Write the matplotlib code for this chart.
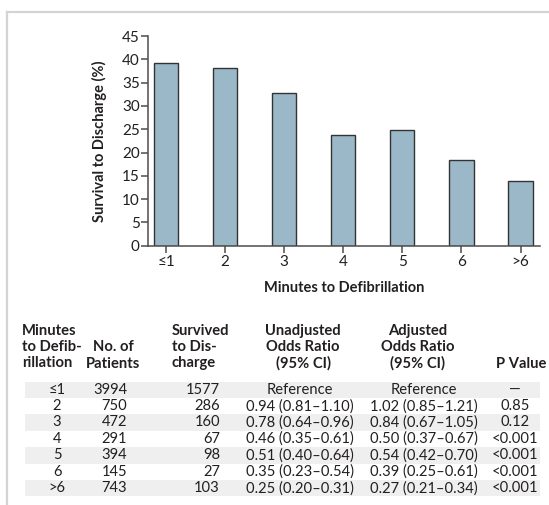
import matplotlib
matplotlib.use("Agg")
import matplotlib.pyplot as plt
from matplotlib.patches import Rectangle
from matplotlib.lines import Line2D

plt.rcParams["font.family"] = ["Lato", "DejaVu Sans"]

# survival by time to defibrillation
categories = ["\u22641", "2", "3", "4", "5", "6", ">6"]
survival_pct = [39.3, 38.1, 32.8, 23.8, 24.8, 18.4, 13.9]

# table columns
patients = ["3994", "750", "472", "291", "394", "145", "743"]
survived = ["1577", "286", "160", "67", "98", "27", "103"]
unadjusted_or = ["Reference", "0.94 (0.81\u20131.10)", "0.78 (0.64\u20130.96)",
                 "0.46 (0.35\u20130.61)", "0.51 (0.40\u20130.64)",
                 "0.35 (0.23\u20130.54)", "0.25 (0.20\u20130.31)"]
adjusted_or = ["Reference", "1.02 (0.85\u20131.21)", "0.84 (0.67\u20131.05)",
               "0.50 (0.37\u20130.67)", "0.54 (0.42\u20130.70)",
               "0.39 (0.25\u20130.61)", "0.27 (0.21\u20130.34)"]
p_values = ["\u2014", "0.85", "0.12", "<0.001", "<0.001", "<0.001", "<0.001"]

W, H = 549, 505
ink = "#231f20"
axis_col = "#4d4d4d"
bar_col = "#9bb8c8"

fig = plt.figure(figsize=(W / 100, H / 100), dpi=100)

# ---- bar chart ----
ax = fig.add_axes([148 / W, 1 - 245.7 / H, 392 / W, 209.7 / H])
x = list(range(len(categories)))
ax.bar(x, survival_pct, width=0.41, color=bar_col, edgecolor="#333333", linewidth=1.0)
ax.set_xlim(-0.305, 6.33)
ax.set_ylim(0, 45)
ax.set_yticks(range(0, 50, 5))
ax.set_xticks(x)
ax.set_xticklabels(categories)
for s in ("top", "right"):
    ax.spines[s].set_visible(False)
for s in ("left", "bottom"):
    ax.spines[s].set_color(axis_col)
    ax.spines[s].set_linewidth(1.1)
ax.tick_params(axis="both", colors=axis_col, labelcolor=ink, labelsize=11,
               width=1.1, length=5, direction="out")
ax.tick_params(axis="y", pad=1)
ax.tick_params(axis="x", pad=2)
ax.set_ylabel("Survival to Discharge (%)", fontsize=10.5, fontweight="bold",
              color=ink, labelpad=11)
ax.set_xlabel("Minutes to Defibrillation", fontsize=10.5, fontweight="bold",
              color=ink, labelpad=8)

# ---- table, drawn in pixel coordinates ----
tab = fig.add_axes([0, 0, 1, 1])
tab.set_xlim(0, W)
tab.set_ylim(H, 0)
tab.axis("off")

# frame lines at top and left
tab.add_line(Line2D([7, W], [12, 12], color="#d4d4d4", lw=1.6))
tab.add_line(Line2D([7, 7], [12, H], color="#d4d4d4", lw=1.6))

hdr = dict(fontsize=10.6, fontweight="bold", color=ink, va="center", linespacing=1.2)
tab.text(22, 347, "Minutes\nto Defib-\nrillation", ha="left", **hdr)
tab.text(113, 355.5, "No. of\nPatients", ha="center", **hdr)
tab.text(172, 347, "Survived\nto Dis-\ncharge", ha="left", **hdr)
tab.text(303, 347, "Unadjusted\nOdds Ratio\n(95% CI)", ha="center", **hdr)
tab.text(418, 347, "Adjusted\nOdds Ratio\n(95% CI)", ha="center", **hdr)
tab.text(546, 364, "P Value", ha="right", **hdr)

row_top = 381.5
row_h = 16.4
cell = dict(fontsize=10.6, color=ink, va="center")
for i in range(len(categories)):
    y0 = row_top + i * row_h
    yc = y0 + row_h / 2
    if i % 2 == 0:
        tab.add_patch(Rectangle((25, y0), 515, row_h, facecolor="#efefef",
                                edgecolor="none", zorder=0))
    tab.text(57, yc, categories[i], ha="center", **cell)
    tab.text(127, yc, patients[i], ha="right", **cell)
    tab.text(220, yc, survived[i], ha="right", **cell)
    tab.text(300, yc, unadjusted_or[i], ha="center", **cell)
    tab.text(424, yc, adjusted_or[i], ha="center", **cell)
    tab.text(515, yc, p_values[i], ha="center", **cell)

fig.savefig("out.png", dpi=100)
